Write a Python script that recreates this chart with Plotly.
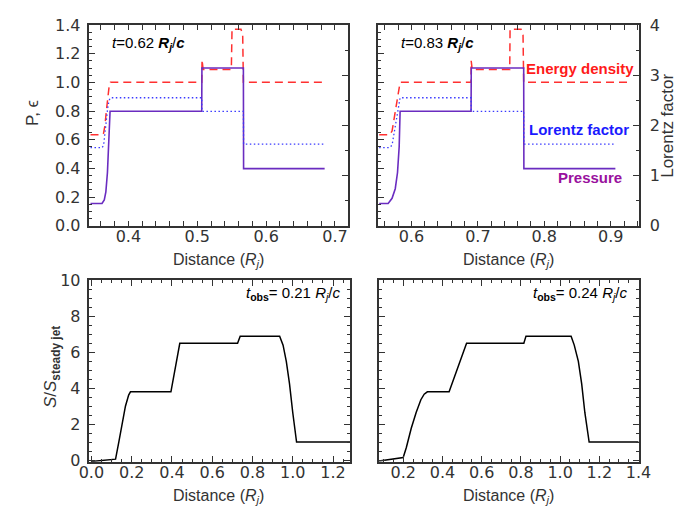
import plotly.graph_objects as go

W, H = 693, 514

# ---------------- data: top-left panel (t = 0.62 Rj/c) ----------------
tl_x_pres = [0.345, 0.3617, 0.365, 0.3673, 0.3696, 0.372, 0.3734, 0.5065, 0.5068, 0.567, 0.5673, 0.685]
tl_pres = [0.155, 0.155, 0.18, 0.236, 0.371, 0.596, 0.798, 0.798, 1.10, 1.10, 0.398, 0.398]

tl_x_ener = [0.345, 0.3617, 0.364, 0.366, 0.368, 0.370, 0.372, 0.374, 0.5065, 0.507, 0.5085, 0.5495, 0.5505, 0.5635, 0.566, 0.567, 0.685]
tl_ener = [0.634, 0.634, 0.645, 0.70, 0.80, 0.90, 0.97, 1.0, 1.0, 1.157, 1.09, 1.09, 1.371, 1.371, 1.33, 1.0, 1.0]

tl_x_lor = [0.345, 0.3617, 0.364, 0.366, 0.368, 0.370, 0.372, 0.374, 0.5065, 0.5068, 0.567, 0.5673, 0.685]
tl_lor = [1.554, 1.554, 1.60, 1.80, 2.10, 2.35, 2.50, 2.55, 2.55, 2.28, 2.28, 1.625, 1.625]

# ---------------- data: top-right panel (t = 0.83 Rj/c) ----------------
tr_x_pres = [0.5515, 0.565, 0.5709, 0.5757, 0.5791, 0.5816, 0.583, 0.6898, 0.6901, 0.769, 0.7693, 0.907]
tr_pres = [0.155, 0.155, 0.191, 0.258, 0.371, 0.551, 0.798, 0.798, 1.10, 1.10, 0.398, 0.398]

tr_x_ener = [0.5515, 0.567, 0.5709, 0.5757, 0.5796, 0.583, 0.6898, 0.690, 0.6915, 0.748, 0.7485, 0.765, 0.768, 0.769, 0.930]
tr_ener = [0.634, 0.634, 0.66, 0.80, 0.91, 1.0, 1.0, 1.15, 1.09, 1.09, 1.371, 1.371, 1.33, 1.0, 1.0]

tr_x_lor = [0.5515, 0.567, 0.5709, 0.5757, 0.5796, 0.583, 0.6898, 0.6901, 0.769, 0.7693, 0.905]
tr_lor = [1.554, 1.554, 1.605, 1.958, 2.28, 2.55, 2.55, 2.28, 2.28, 1.625, 1.625]

# ---------------- data: bottom-left (t_obs = 0.21 Rj/c) ----------------
bl_x = [0.0, 0.12, 0.137, 0.153, 0.169, 0.185, 0.194, 0.395, 0.439, 0.726, 0.739,
        0.935, 0.952, 0.968, 0.984, 1.0, 1.019, 1.29]
bl_s = [-0.08, 0.05, 1.06, 2.1, 3.0, 3.62, 3.8, 3.8, 6.5, 6.5, 6.9,
        6.9, 6.4, 5.5, 4.24, 2.65, 1.0, 1.0]

# ---------------- data: bottom-right (t_obs = 0.24 Rj/c) ----------------
br_x = [0.077, 0.2, 0.216, 0.241, 0.266, 0.29, 0.307, 0.323, 0.434, 0.523, 0.815, 0.826,
        1.056, 1.072, 1.093, 1.11, 1.126, 1.148, 1.40]
br_s = [-0.05, 0.14, 0.7, 1.77, 2.65, 3.36, 3.67, 3.8, 3.8, 6.5, 6.5, 6.9,
        6.9, 6.4, 5.5, 4.24, 2.65, 1.0, 1.0]

# ---------------- styling ----------------
PURPLE = "#6a2cc0"
RED = "#ff3030"
BLUE = "#3a3aff"
AX = "#333333"
TICKFONT = dict(family="DejaVu Sans", size=16, color=AX)

P_RANGE = [-0.005, 1.402]
L_RANGE = [P_RANGE[0] * 4 / 1.4, P_RANGE[1] * 4 / 1.4]


def fx(px):
    return px / W


def fy(py):
    return 1 - py / H


fig = go.Figure()

RED_DASH = dict(color=RED, width=1.5, dash="8px,5px")
BLUE_DOT = dict(color=BLUE, width=1.3, dash="1.5px,2.5px")

# top-left
fig.add_trace(go.Scatter(x=tl_x_ener, y=tl_ener, mode="lines", xaxis="x", yaxis="y",
                         line=RED_DASH, showlegend=False))
fig.add_trace(go.Scatter(x=tl_x_pres, y=tl_pres, mode="lines", xaxis="x", yaxis="y",
                         line=dict(color=PURPLE, width=1.6), showlegend=False))
fig.add_trace(go.Scatter(x=tl_x_lor, y=tl_lor, mode="lines", xaxis="x", yaxis="y5",
                         line=BLUE_DOT, showlegend=False))
# top-right
fig.add_trace(go.Scatter(x=tr_x_ener, y=tr_ener, mode="lines", xaxis="x2", yaxis="y2",
                         line=RED_DASH, showlegend=False))
fig.add_trace(go.Scatter(x=tr_x_pres, y=tr_pres, mode="lines", xaxis="x2", yaxis="y2",
                         line=dict(color=PURPLE, width=1.6), showlegend=False))
fig.add_trace(go.Scatter(x=tr_x_lor, y=tr_lor, mode="lines", xaxis="x2", yaxis="y6",
                         line=BLUE_DOT, showlegend=False))
# bottom
fig.add_trace(go.Scatter(x=bl_x, y=bl_s, mode="lines", xaxis="x3", yaxis="y3",
                         line=dict(color="black", width=1.5), showlegend=False))
fig.add_trace(go.Scatter(x=br_x, y=br_s, mode="lines", xaxis="x4", yaxis="y4",
                         line=dict(color="black", width=1.5), showlegend=False))


def xax(domain_px, rng, dtick, minor, anchor, labels=True):
    return dict(domain=[fx(domain_px[0]), fx(domain_px[1])], range=rng, anchor=anchor,
                dtick=dtick, tick0=0, ticks="inside", ticklen=6, tickwidth=1.2, tickcolor=AX,
                minor=dict(dtick=minor, tick0=0, ticks="inside", ticklen=3, tickcolor=AX),
                showline=True, linecolor=AX, linewidth=1.5, mirror="allticks",
                showgrid=False, zeroline=False, showticklabels=labels, tickfont=TICKFONT,
                tickformat=".1f", ticklabelstandoff=-5)


def yax(domain_py, rng, dtick, minor, anchor, labels=True, mirror="allticks", fmt=None):
    d = dict(domain=[fy(domain_py[1]), fy(domain_py[0])], range=rng, anchor=anchor,
             dtick=dtick, tick0=0, ticks="inside", ticklen=6, tickwidth=1.2, tickcolor=AX,
             minor=dict(dtick=minor, tick0=0, ticks="inside", ticklen=3, tickcolor=AX),
             showline=True, linecolor=AX, linewidth=1.5, mirror=mirror,
             showgrid=False, zeroline=False, showticklabels=labels, tickfont=TICKFONT,
             ticklabelstandoff=4)
    if fmt:
        d["tickformat"] = fmt
    return d


def lax(overlay, anchor, labels):
    return dict(overlaying=overlay, anchor=anchor, side="right", range=L_RANGE,
                dtick=1, tick0=0, ticks="inside", ticklen=6, tickwidth=1.2, tickcolor=AX,
                minor=dict(dtick=0.5, tick0=0, ticks="inside", ticklen=3, tickcolor=AX),
                showline=True, linecolor=AX, linewidth=1.5,
                showgrid=False, zeroline=False, showticklabels=labels, tickfont=TICKFONT,
                ticklabelstandoff=6)


fig.update_layout(
    width=W, height=H, margin=dict(l=0, r=0, t=0, b=0),
    paper_bgcolor="white", plot_bgcolor="white",
    xaxis=xax((73, 341), [0.3435, 0.7192], 0.1, 0.02, "y"),
    yaxis=yax((8, 217), P_RANGE, 0.2, 0.05, "x", mirror=False, fmt=".1f"),
    yaxis5=lax("y", "x", False),
    xaxis2=xax((372, 642), [0.5499, 0.9422], 0.1, 0.02, "y2"),
    yaxis2=yax((8, 217), P_RANGE, 0.2, 0.05, "x2", labels=False, mirror=False),
    yaxis6=lax("y2", "x2", True),
    xaxis3=xax((73, 343), [-0.0096, 1.285], 0.2, 0.05, "y3"),
    yaxis3=yax((273, 461), [-0.1, 10.001], 2, 0.5, "x3", fmt="d"),
    xaxis4=xax((373, 642), [0.077, 1.401], 0.2, 0.05, "y4"),
    yaxis4=yax((273, 461), [-0.1, 10.001], 2, 0.5, "x4", labels=False),
)

ann = []


def add(text, px, py, size=15, color=AX, xanchor="center", angle=0, family="Liberation Sans"):
    ann.append(dict(text=text, x=fx(px), y=fy(py), xref="paper", yref="paper",
                    xanchor=xanchor, yanchor="middle", showarrow=False, textangle=angle,
                    font=dict(family=family, size=size, color=color)))


dist = "Distance (<i>R</i><sub><i>j</i></sub>)"
add(dist, 207, 252, size=16)
add(dist, 507, 252, size=16)
add(dist, 207, 497, size=16)
add(dist, 507, 497, size=16)

add("P, ϵ", 14, 100, size=17, angle=-90)
add("Lorentz factor", 671, 113, size=17, angle=-90)
add("<i>S</i>/<i>S</i><sub><b>steady jet</b></sub>", 35, 363, size=17, angle=-90)

add("<i>t</i>=0.62 <b><i>R</i></b><sub><b><i>j</i></b></sub>/<b><i>c</i></b>", 94, 27, size=15, color="black", xanchor="left")
add("<i>t</i>=0.83 <b><i>R</i></b><sub><b><i>j</i></b></sub>/<b><i>c</i></b>", 394, 27, size=15, color="black", xanchor="left")
add("<i>t</i><sub><b>obs</b></sub>= 0.21 <i>R</i><sub><i>j</i></sub>/<i>c</i>", 336, 287, size=15, color="black", xanchor="right")
add("<i>t</i><sub><b>obs</b></sub>= 0.24 <i>R</i><sub><i>j</i></sub>/<i>c</i>", 633, 287, size=15, color="black", xanchor="right")

add("<b>Energy density</b>", 581, 53, size=15, color="#ff1a1a")
add("<b>Lorentz factor</b>", 580, 117, size=15, color="#1a1aff")
add("<b>Pressure</b>", 592, 166, size=15, color="#99119e")

fig.update_layout(annotations=ann)

fig.write_html("out.html")
